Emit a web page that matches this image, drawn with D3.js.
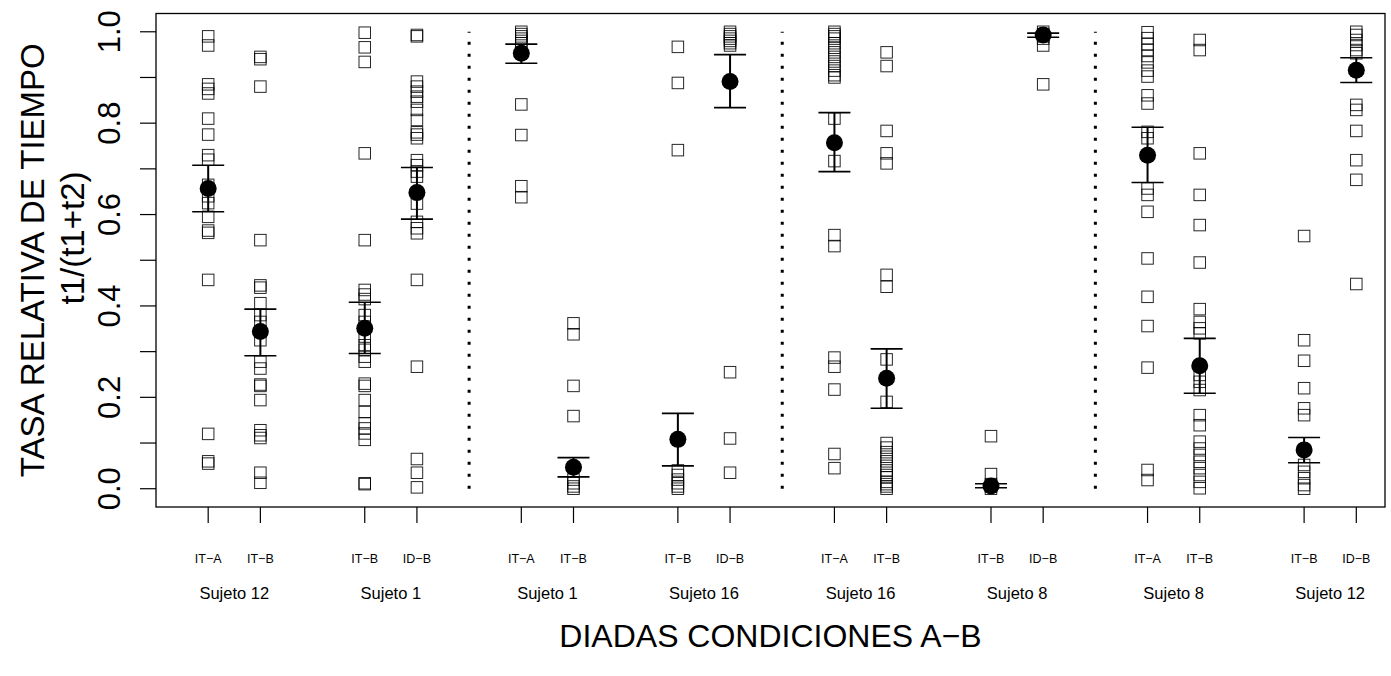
<!DOCTYPE html>
<html>
<head>
<meta charset="utf-8">
<script src="https://cdn.jsdelivr.net/npm/d3@7"></script>
<style>
  html, body { margin: 0; padding: 0; background: #fff; }
  svg { display: block; font-family: "Liberation Sans", Arial, Helvetica, sans-serif; }
</style>
</head>
<body>
<div id="chart"></div>
<script>
// Relative time rate t1/(t1+t2) per dyad — raw points, mean and error bar

const positions  = [1, 2, 4, 5, 7, 8, 10, 11, 13, 14, 16, 17, 19, 20, 22, 23];
const conditions = ['IT−A', 'IT−B', 'IT−B', 'ID−B', 'IT−A', 'IT−B', 'IT−B', 'ID−B',
                    'IT−A', 'IT−B', 'IT−B', 'ID−B', 'IT−A', 'IT−B', 'IT−B', 'ID−B'];
const subjects   = ['Sujeto 12', 'Sujeto 1', 'Sujeto 1', 'Sujeto 16',
                    'Sujeto 16', 'Sujeto 8', 'Sujeto 8', 'Sujeto 12'];
const separators = [6, 12, 18];
const yTicks     = [0, 0.1, 0.2, 0.3, 0.4, 0.5, 0.6, 0.7, 0.8, 0.9, 1.0];
const yLabels    = [0, 0.2, 0.4, 0.6, 0.8, 1.0];

// raw observations, one array per column
const s12ItA = [0.99, 0.97, 0.885, 0.875, 0.865, 0.81, 0.775, 0.73, 0.72, 0.665, 0.64, 0.625,
                0.595, 0.565, 0.56, 0.457, 0.12, 0.06, 0.055];
const s12ItB = [0.945, 0.94, 0.88, 0.544, 0.445, 0.44, 0.406, 0.38, 0.365, 0.344, 0.325, 0.278,
                0.263, 0.228, 0.225, 0.194, 0.128, 0.117, 0.111, 0.035, 0.013];
const s1ItB  = [0.998, 0.966, 0.934, 0.734, 0.544, 0.435, 0.425, 0.415, 0.38, 0.365, 0.333,
                0.314, 0.304, 0.289, 0.278, 0.23, 0.225, 0.194, 0.168, 0.143, 0.132, 0.121,
                0.107, 0.012, 0.01];
const s1IdB  = [0.993, 0.99, 0.891, 0.88, 0.869, 0.858, 0.847, 0.829, 0.807, 0.78, 0.775,
                0.767, 0.719, 0.708, 0.694, 0.683, 0.624, 0.584, 0.57, 0.559, 0.457, 0.267,
                0.065, 0.035, 0.003];
const s1ItA  = [1.0, 0.995, 0.99, 0.985, 0.98, 0.975, 0.841, 0.774, 0.662, 0.638];
const s1ItB2 = [0.362, 0.338, 0.225, 0.159, 0.02, 0.012, 0.005, 0.0];
const s16ItB = [0.967, 0.888, 0.741, 0.04, 0.03, 0.02, 0.012, 0.005, 0.0];
const s16IdB = [1.0, 0.995, 0.99, 0.985, 0.98, 0.975, 0.97, 0.255, 0.11, 0.035];
const s16ItA = [1.0, 0.995, 0.99, 0.985, 0.975, 0.965, 0.955, 0.945, 0.935, 0.925, 0.915,
                0.905, 0.9, 0.81, 0.717, 0.555, 0.531, 0.287, 0.267, 0.217, 0.076, 0.045];
const s16ItB2 = [0.955, 0.925, 0.783, 0.734, 0.712, 0.468, 0.442, 0.283, 0.19, 0.1, 0.09,
                 0.08, 0.07, 0.06, 0.05, 0.04, 0.03, 0.025, 0.015, 0.01, 0.005, 0.0];
const s8ItB  = [0.115, 0.032, 0.01, 0.005, 0.0];
const s8IdB  = [1.0, 0.995, 0.99, 0.985, 0.97, 0.885];
const s8ItA  = [0.999, 0.986, 0.973, 0.96, 0.947, 0.933, 0.915, 0.902, 0.861, 0.843, 0.781,
                0.767, 0.657, 0.643, 0.606, 0.504, 0.42, 0.356, 0.265, 0.041, 0.019];
const s8ItB2 = [0.982, 0.96, 0.734, 0.643, 0.577, 0.495, 0.393, 0.365, 0.351, 0.34, 0.249,
                0.234, 0.216, 0.161, 0.139, 0.103, 0.088, 0.074, 0.059, 0.045, 0.03, 0.015, 0.001];
const s12ItB2 = [0.553, 0.325, 0.28, 0.22, 0.176, 0.161, 0.052, 0.037, 0.023, 0.008, 0.0];
const s12IdB = [1.0, 0.993, 0.982, 0.971, 0.96, 0.953, 0.84, 0.829, 0.783, 0.719, 0.676, 0.448];

const columns = [s12ItA, s12ItB, s1ItB, s1IdB, s1ItA, s1ItB2, s16ItB, s16IdB,
                 s16ItA, s16ItB2, s8ItB, s8IdB, s8ItA, s8ItB2, s12ItB2, s12IdB];

// column means and error bar limits
const means  = [0.657, 0.344, 0.351, 0.648, 0.953, 0.047, 0.108, 0.891,
                0.757, 0.242, 0.006, 0.993, 0.730, 0.269, 0.085, 0.916];
const errLow = [0.606, 0.291, 0.296, 0.590, 0.931, 0.026, 0.050, 0.834,
                0.694, 0.176, 0.002, 0.988, 0.670, 0.209, 0.057, 0.889];
const errHigh = [0.708, 0.393, 0.408, 0.703, 0.973, 0.068, 0.165, 0.950,
                 0.823, 0.306, 0.011, 0.997, 0.791, 0.329, 0.112, 0.943];

const W = 1391, H = 676;
const plot = { left: 156, right: 1385, top: 13.5, bottom: 507 };

const svg = d3.select('#chart').append('svg')
  .attr('width', W)
  .attr('height', H);

const x = d3.scaleLinear().domain([0, 23.55]).range([plot.left, plot.right]);
const y = d3.scaleLinear().domain([-0.04, 1.04]).range([plot.bottom, plot.top]);

// ── Separators ──────────────────────────────────────────────────────────────
svg.append('g').selectAll('line')
  .data(separators)
  .join('line')
  .attr('x1', d => x(d)).attr('x2', d => x(d))
  .attr('y1', y(0)).attr('y2', y(1))
  .attr('stroke', '#000')
  .attr('stroke-width', 3)
  .attr('stroke-dasharray', '3,9');

// ── Raw points ──────────────────────────────────────────────────────────────
const side = 11.5;
const pts = columns.flatMap((vals, i) => vals.map(v => ({ p: positions[i], v })));
svg.append('g').selectAll('rect')
  .data(pts)
  .join('rect')
  .attr('x', d => x(d.p) - side / 2)
  .attr('y', d => y(d.v) - side / 2)
  .attr('width', side)
  .attr('height', side)
  .attr('fill', 'none')
  .attr('stroke', '#000')
  .attr('stroke-opacity', 0.85)
  .attr('stroke-width', 1);

// ── Error bars + means ──────────────────────────────────────────────────────
const gErr = svg.append('g');
const cap = 16;
positions.forEach((p, i) => {
  const cx = x(p);
  gErr.append('line')
    .attr('x1', cx).attr('x2', cx)
    .attr('y1', y(errLow[i])).attr('y2', y(errHigh[i]))
    .attr('stroke', '#000').attr('stroke-width', 2);
  [errLow[i], errHigh[i]].forEach(v => {
    gErr.append('line')
      .attr('x1', cx - cap).attr('x2', cx + cap)
      .attr('y1', y(v)).attr('y2', y(v))
      .attr('stroke', '#000').attr('stroke-width', 1.6);
  });
  gErr.append('circle')
    .attr('cx', cx).attr('cy', y(means[i]))
    .attr('r', 8.5)
    .attr('fill', '#000');
});

// ── Box ─────────────────────────────────────────────────────────────────────
svg.append('rect')
  .attr('x', plot.left).attr('y', plot.top)
  .attr('width', plot.right - plot.left)
  .attr('height', plot.bottom - plot.top)
  .attr('fill', 'none')
  .attr('stroke', '#000')
  .attr('stroke-width', 1.3);

// ── Y axis ──────────────────────────────────────────────────────────────────
const gy = svg.append('g');
gy.selectAll('line')
  .data(yTicks)
  .join('line')
  .attr('x1', plot.left - 16).attr('x2', plot.left)
  .attr('y1', d => y(d)).attr('y2', d => y(d))
  .attr('stroke', '#000').attr('stroke-width', 1.2);
gy.selectAll('text')
  .data(yLabels)
  .join('text')
  .attr('transform', d => `translate(120,${y(d)}) rotate(-90)`)
  .attr('text-anchor', 'middle')
  .style('font-size', '31px')
  .text(d => d3.format('.1f')(d));

svg.append('text')
  .attr('transform', `translate(44,${(y(0) + y(1)) / 2}) rotate(-90)`)
  .attr('text-anchor', 'middle')
  .style('font-size', '33px')
  .text('TASA RELATIVA DE TIEMPO');
svg.append('text')
  .attr('transform', `translate(84,238) rotate(-90)`)
  .attr('text-anchor', 'middle')
  .style('font-size', '33px')
  .text('t1/(t1+t2)');

// ── X axis ──────────────────────────────────────────────────────────────────
const gx = svg.append('g');
gx.selectAll('line')
  .data(positions)
  .join('line')
  .attr('x1', d => x(d)).attr('x2', d => x(d))
  .attr('y1', plot.bottom).attr('y2', plot.bottom + 16)
  .attr('stroke', '#000').attr('stroke-width', 1.2);
gx.selectAll('text.cond')
  .data(positions)
  .join('text')
  .attr('class', 'cond')
  .attr('x', d => x(d))
  .attr('y', 563)
  .attr('text-anchor', 'middle')
  .style('font-size', '12.5px')
  .text((d, i) => conditions[i]);
gx.selectAll('text.subj')
  .data(subjects)
  .join('text')
  .attr('class', 'subj')
  .attr('x', (d, i) => (x(positions[2 * i]) + x(positions[2 * i + 1])) / 2)
  .attr('y', 599)
  .attr('text-anchor', 'middle')
  .style('font-size', '16.5px')
  .text(d => d);

svg.append('text')
  .attr('x', (plot.left + plot.right) / 2)
  .attr('y', 647)
  .attr('text-anchor', 'middle')
  .style('font-size', '32px')
  .text('DIADAS CONDICIONES A−B');
</script>
</body>
</html>
